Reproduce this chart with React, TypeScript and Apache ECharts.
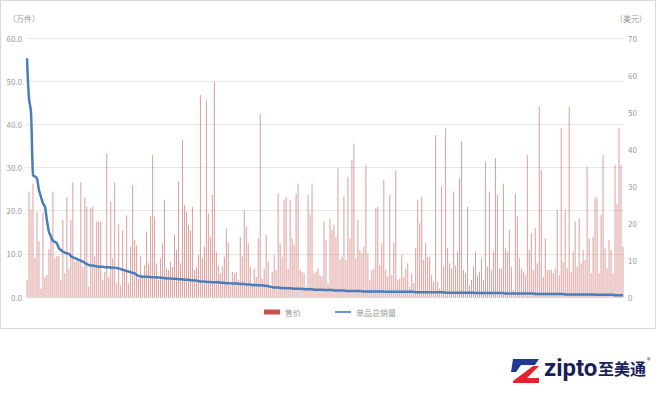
import React, { useEffect, useRef } from "react";
import * as echarts from "echarts";

// 售价 (美元), read left to right
const priceA = [4.6, 28.5, 23.5, 30.7, 10.5, 23, 15, 2.3, 23, 5.5, 6, 13, 17, 28.5, 10.5, 11, 11, 4.6, 20.8, 6.4, 27, 7.7, 20.8, 31, 9.5, 10, 9.5, 31, 8.2, 27, 24.4, 2.8, 24, 24.4, 11, 20.4, 20.4, 20.4, 4.6, 6.8, 38.8, 5.5, 25.8, 10.5, 31, 3.7, 19.5, 3.2, 18, 7.3, 22, 3.7, 13.6, 30.3, 15.4, 14, 5, 11, 6, 8.6];
const priceB = [17.7, 9.1, 21.7, 38.4, 21.7, 9.1, 4.6, 10.5, 14.5, 26.2, 7.7, 7.3, 9.5, 8.2, 16.8, 12.7, 31.2, 9.1, 42.4, 24.9, 23, 19.5, 18.1, 24.4, 7.3, 8.2, 11.4, 54.6, 10.5, 13.6, 53.2, 22.6, 16.3, 27.6, 58.2, 12.3, 8.6, 6.4, 8.2, 10.9, 18.6, 14.5, 3.2, 6.8, 6.4, 6.8, 4.6, 16.3, 10.9, 23.5, 19, 14.5, 8.2, 3.2, 7.7, 5.5, 15.9, 49.6, 5, 7.7];
const priceC = [16.8, 9.5, 2.8, 6.8, 11.4, 7.3, 28, 14.5, 10.9, 26.2, 27.1, 7.7, 26.2, 15.9, 14.1, 28, 30.7, 7.3, 6.8, 6.4, 2.8, 27.6, 22.2, 30.7, 6.4, 6.8, 7.7, 5.9, 5.5, 20.4, 15.4, 3.7, 21.3, 18.1, 19.5, 16.3, 34.8, 10, 10.9, 27.1, 10, 32.5, 15.9, 37, 41.5, 10.5, 20.8, 12.7, 11.8, 13.6, 35.7, 11.8, 4.6, 7.3, 7.7, 24, 24.4, 8.6, 14.5, 31.6];
const priceD = [7.3, 5.5, 27.6, 5.9, 14.5, 34.3, 4.6, 5, 11.4, 5.5, 7.7, 9.1, 2.8, 6.4, 3.7, 13.2, 26.2, 19.9, 27.1, 10, 14.5, 10.9, 10.9, 5.9, 4.1, 43.8, 4.1, 2.3, 29.8, 8.2, 45.6, 13.2, 9.1, 7.7, 28.5, 8.6, 12.3, 32.1, 42, 7.3, 6.4, 24.4, 3.2, 4.6, 8.2, 12.3, 5.9, 6.8, 10.5, 4.6, 36.6, 8.2, 28.5, 7.3, 12.3, 37.5, 27.6, 7.7, 7.7, 30.7];
const priceE = [13.2, 12.3, 18.1, 8.2, 1.9, 28, 21.7, 10.5, 7.7, 6.8, 5.9, 38.4, 12.7, 17.2, 7.3, 18.6, 9.1, 51.4, 34.3, 5.5, 15.9, 7.3, 7.3, 7.3, 6.4, 7.7, 23.5, 5.9, 45.6, 9.5, 23.5, 7.7, 51.4, 6.8, 12.3, 20.4, 8.2, 21.3, 9.1, 12.7, 10, 35.2, 15.9, 6.4, 16.3, 27.1, 26.7, 6.4, 22.2, 38.4, 13.2, 7.7, 15.4, 12.7, 6.4, 35.7, 25.3, 45.6, 35.7, 13.6];

// 单品总销量 (万件)
const salesA = [55.3, 46.0, 42.9, 28.3, 27.9, 27.5, 24.8, 23.2, 21.7, 20.9, 17.8, 15.1, 14.0, 13.0, 12.8, 12.4, 11.3, 10.9, 10.5, 10.3, 10.1, 10.0, 9.5, 9.2, 9.0, 8.8, 8.6, 8.4, 8.2, 7.9, 7.6, 7.4, 7.3, 7.3, 7.2, 7.1, 7.0, 7.0, 7.0, 6.9, 6.9, 6.9, 6.8, 6.8, 6.8, 6.7, 6.6, 6.5, 6.3, 6.2, 6.0, 5.9, 5.7, 5.6, 5.5, 5.1, 4.9, 4.8, 4.7, 4.7];
const salesB = [4.7, 4.7, 4.6, 4.6, 4.6, 4.5, 4.5, 4.5, 4.4, 4.4, 4.3, 4.3, 4.3, 4.2, 4.2, 4.2, 4.1, 4.1, 4.1, 4.0, 4.0, 4.0, 3.9, 3.9, 3.8, 3.8, 3.7, 3.6, 3.6, 3.6, 3.5, 3.5, 3.5, 3.4, 3.4, 3.4, 3.4, 3.3, 3.3, 3.3, 3.2, 3.2, 3.2, 3.1, 3.1, 3.1, 3.1, 3.0, 3.0, 3.0, 2.9, 2.9, 2.9, 2.8, 2.8, 2.8, 2.7, 2.7, 2.7, 2.6];
const salesC = [2.6, 2.5, 2.4, 2.3, 2.2, 2.2, 2.2, 2.1, 2.1, 2.1, 2.0, 2.0, 2.0, 2.0, 1.9, 1.9, 1.9, 1.9, 1.9, 1.8, 1.8, 1.8, 1.8, 1.8, 1.7, 1.7, 1.7, 1.7, 1.7, 1.6, 1.6, 1.6, 1.6, 1.6, 1.5, 1.5, 1.5, 1.5, 1.5, 1.5, 1.4, 1.4, 1.4, 1.4, 1.4, 1.4, 1.4, 1.4, 1.3, 1.3, 1.3, 1.3, 1.3, 1.3, 1.3, 1.3, 1.3, 1.3, 1.3, 1.3];
const salesD = [1.2, 1.2, 1.2, 1.2, 1.2, 1.2, 1.2, 1.2, 1.2, 1.2, 1.2, 1.2, 1.2, 1.2, 1.2, 1.1, 1.1, 1.1, 1.1, 1.1, 1.1, 1.1, 1.1, 1.1, 1.1, 1.1, 1.1, 1.1, 1.1, 1.1, 1.0, 1.0, 1.0, 1.0, 1.0, 1.0, 1.0, 1.0, 1.0, 1.0, 1.0, 1.0, 1.0, 1.0, 1.0, 0.9, 0.9, 0.9, 0.9, 0.9, 0.9, 0.9, 0.9, 0.9, 0.9, 0.9, 0.9, 0.9, 0.9, 0.9];
const salesE = [0.8, 0.8, 0.8, 0.8, 0.8, 0.8, 0.8, 0.8, 0.8, 0.8, 0.8, 0.8, 0.8, 0.8, 0.8, 0.7, 0.7, 0.7, 0.7, 0.7, 0.7, 0.7, 0.7, 0.7, 0.7, 0.7, 0.7, 0.7, 0.7, 0.7, 0.6, 0.6, 0.6, 0.6, 0.6, 0.6, 0.6, 0.6, 0.6, 0.6, 0.6, 0.6, 0.6, 0.6, 0.6, 0.5, 0.5, 0.5, 0.5, 0.5, 0.5, 0.5, 0.5, 0.5, 0.5, 0.4, 0.4, 0.4, 0.4, 0.4];

const leftTicks = { min: 0, max: 60, interval: 10 };
const rightTicks = { min: 0, max: 70, interval: 10 };

export default function App() {
  const ref = useRef<HTMLDivElement>(null);
  useEffect(() => {
    document.body.style.margin = "0";
    const chart = echarts.init(ref.current!, null, { renderer: "svg" });
    const price = [...priceA, ...priceB, ...priceC, ...priceD, ...priceE];
    const sales = [...salesA, ...salesB, ...salesC, ...salesD, ...salesE];
    const cats = price.map((_, i) => String(i + 1));
    const font = "'Noto Sans CJK SC', 'Noto Sans', sans-serif";
    chart.setOption({
      animation: false,
      backgroundColor: "#fff",
      textStyle: { fontFamily: font },
      grid: { left: 26, right: 36, top: 38, bottom: 102 },
      legend: {
        bottom: 78,
        left: "center",
        itemGap: 34,
        itemWidth: 16,
        itemHeight: 5,
        textStyle: { fontSize: 8, color: "#999" },
        data: [
          { name: "售价", icon: "rect", itemStyle: { color: "#c9504d", opacity: 1 } },
          { name: "单品总销量", icon: "path://M0 0H40V4H0Z" },
        ],
      },
      xAxis: {
        type: "category",
        data: cats,
        boundaryGap: true,
        axisLine: { lineStyle: { color: "#d9d9d9" } },
        axisTick: { show: false },
        axisLabel: { show: false },
      },
      yAxis: [
        {
          type: "value",
          ...leftTicks,
          axisLabel: {
            fontSize: 8,
            color: "#999",
            margin: 4,
            formatter: (v: number) => v.toFixed(1),
          },
          splitLine: { lineStyle: { color: "#e8e8e8" } },
          axisLine: { show: false },
          axisTick: { show: false },
        },
        {
          type: "value",
          ...rightTicks,
          axisLabel: { fontSize: 8, color: "#999", margin: 4 },
          splitLine: { show: false },
          axisLine: { show: false },
          axisTick: { show: false },
        },
      ],
      series: [
        {
          name: "售价",
          type: "bar",
          yAxisIndex: 1,
          data: price,
          barWidth: 1,
          itemStyle: { color: "#c0504d", opacity: 0.55 },
        },
        {
          name: "单品总销量",
          type: "line",
          yAxisIndex: 0,
          data: sales,
          showSymbol: false,
          symbol: "none",
          smooth: 0.3,
          lineStyle: { color: "#4a7ebb", width: 2.5 },
          itemStyle: { color: "#4a7ebb" },
        },
      ],
      graphic: [
        {
          type: "rect",
          shape: { x: 0.5, y: 0.5, width: 655, height: 328 },
          style: { fill: "none", stroke: "#d9d9d9", lineWidth: 1 },
          silent: true,
        },
        {
          type: "text",
          x: 8,
          y: 14,
          style: { text: "（万件）", fontSize: 8, fill: "#999", fontFamily: font },
        },
        {
          type: "text",
          x: 615,
          y: 14,
          style: { text: "（美元）", fontSize: 8, fill: "#999", fontFamily: font },
        },
        {
          type: "polygon",
          shape: { points: [[513, 359], [539, 359], [535, 365], [521, 365], [516, 372], [511, 372]] },
          style: { fill: "#1f3a93" },
        },
        {
          type: "polygon",
          shape: { points: [[533, 366], [539, 366], [527, 378], [539, 378], [539, 383], [513, 383], [513, 381]] },
          style: { fill: "#e0262c" },
        },
        {
          type: "text",
          x: 544,
          y: 356,
          style: { text: "zipto", fontSize: 24, fontWeight: "bold", fill: "#1a1f5c", fontFamily: "Roboto, 'Noto Sans', sans-serif" },
        },
        {
          type: "text",
          x: 598,
          y: 360,
          style: { text: "至美通", fontSize: 16, fontWeight: "bold", fill: "#1a1f5c", fontFamily: font },
        },
        {
          type: "text",
          x: 647,
          y: 356,
          style: { text: "®", fontSize: 7, fill: "#1a1f5c", fontFamily: font },
        },
      ],
    });
    return () => chart.dispose();
  }, []);
  return <div ref={ref} style={{ width: 660, height: 399 }} />;
}
